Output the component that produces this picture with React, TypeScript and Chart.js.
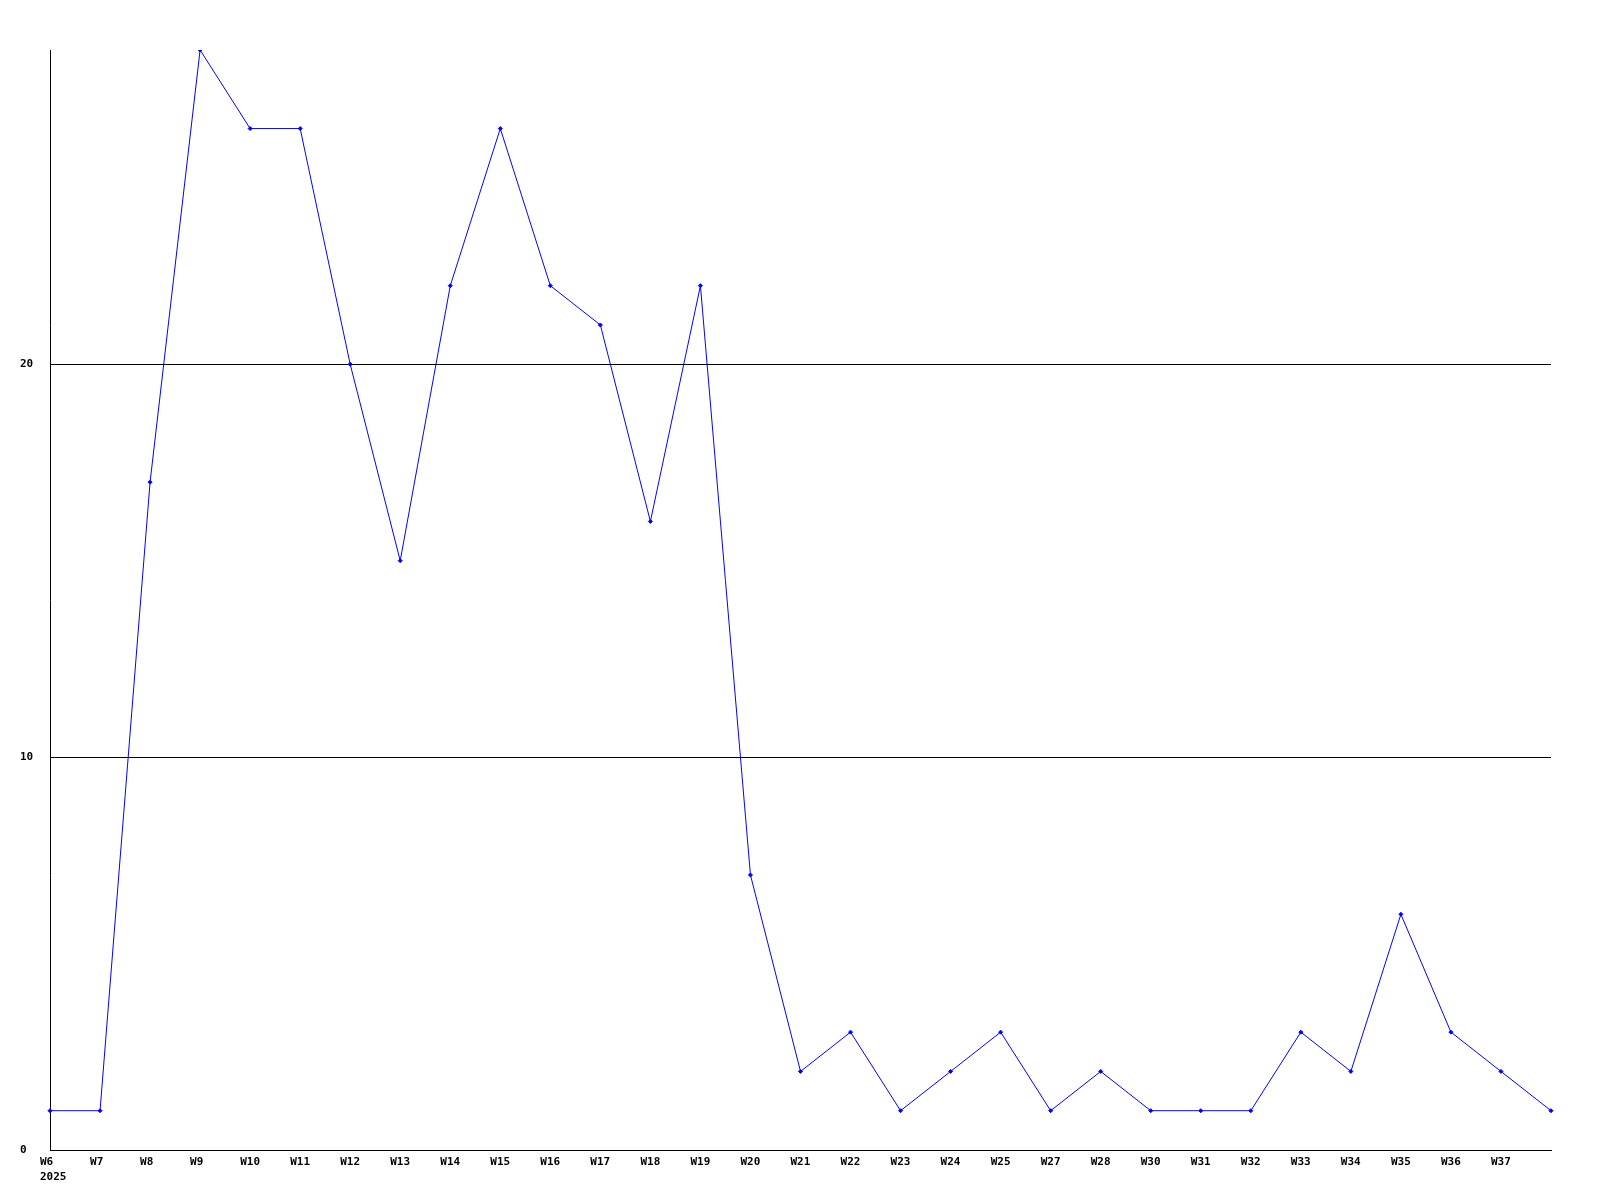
import React, { useEffect, useRef } from "react";
import { Chart, registerables } from "chart.js";

Chart.register(...registerables);

const weekLabels = [
  "W6", "W7", "W8", "W9", "W10", "W11", "W12", "W13", "W14", "W15",
  "W16", "W17", "W18", "W19", "W20", "W21", "W22", "W23", "W24", "W25",
  "W27", "W28", "W30", "W31", "W32", "W33", "W34", "W35", "W36", "W37", "",
];
const values = [
  1, 1, 17, 28, 26, 26, 20, 15, 22, 26,
  22, 21, 16, 22, 7, 2, 3, 1, 2, 3,
  1, 2, 1, 1, 1, 3, 2, 6, 3, 2, 1,
];
const yTickValues = [0, 10, 20];
const yearLabel = "2025";

const FONT = "bold 11px 'DejaVu Sans Mono', 'Liberation Mono', monospace";

const labelPlugin = {
  id: "customLabels",
  afterDraw(chart: any) {
    const ctx = chart.ctx;
    const xs = chart.scales.x;
    const ys = chart.scales.y;
    ctx.save();
    ctx.fillStyle = "#000";
    ctx.font = FONT;
    ctx.textBaseline = "top";
    ctx.textAlign = "left";
    weekLabels.forEach((l, i) => {
      if (!l) return;
      const px = xs.getPixelForValue(i);
      ctx.fillText(l, px - 10, 1157);
    });
    ctx.fillText(yearLabel, xs.getPixelForValue(0) - 10, 1172);
    ctx.textBaseline = "middle";
    yTickValues.forEach((v) => {
      const py = ys.getPixelForValue(v);
      ctx.fillText(String(v), 20, py);
    });
    ctx.restore();
  },
};

export default function App() {
  const ref = useRef<HTMLCanvasElement | null>(null);
  useEffect(() => {
    if (!ref.current) return;
    const chart = new Chart(ref.current, {
      type: "line",
      data: {
        labels: weekLabels,
        datasets: [
          {
            data: values,
            borderColor: "#0000ff",
            backgroundColor: "#0000ff",
            borderWidth: 1,
            pointStyle: "rectRot",
            pointRadius: 2,
            pointBorderWidth: 1,
            pointBorderColor: "#0000ff",
            pointBackgroundColor: "#0000ff",
            tension: 0,
            fill: false,
          },
        ],
      },
      options: {
        animation: false,
        responsive: false,
        maintainAspectRatio: false,
        devicePixelRatio: 1,
        layout: { padding: { top: 50, right: 49, left: 0, bottom: 0 } },
        plugins: {
          legend: { display: false },
          tooltip: { enabled: false },
          title: { display: false },
        },
        scales: {
          x: {
            type: "category",
            offset: false,
            grid: { display: false, drawTicks: false },
            border: { display: true, color: "#000", width: 1 },
            ticks: { display: false },
            afterFit: (s: any) => {
              s.height = 50;
            },
          },
          y: {
            type: "linear",
            min: 0,
            max: 28,
            ticks: { display: false, stepSize: 10, includeBounds: false },
            grid: { display: true, color: "#000", lineWidth: 1, drawTicks: false },
            border: { display: true, color: "#000", width: 1 },
            afterFit: (s: any) => {
              s.width = 50;
            },
          },
        },
      },
      plugins: [labelPlugin],
    });
    return () => chart.destroy();
  }, []);
  return (
    <div style={{ position: "fixed", left: 0, top: 0, width: 1600, height: 1200, background: "#fff" }}>
      <canvas ref={ref} width={1600} height={1200} style={{ width: 1600, height: 1200 }} />
    </div>
  );
}
